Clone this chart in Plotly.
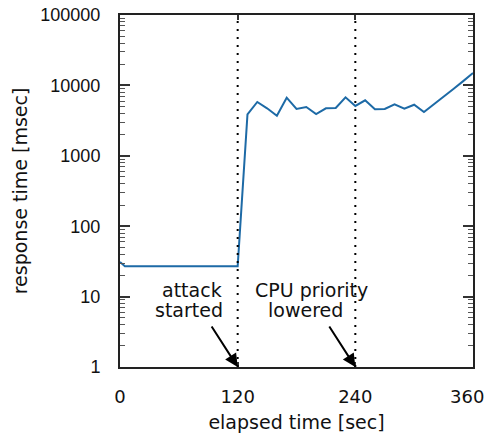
import math
import plotly.graph_objects as go

# elapsed time [sec]
time_sec = [0, 5, 10, 20, 30, 40, 50, 60, 70, 80, 90, 100, 110, 120,
            130, 140, 150, 160, 170, 180, 190, 200, 210, 220, 230, 240,
            250, 260, 270, 280, 290, 300, 310, 320, 330, 340, 350, 360]
# response time [msec]
response_ms = [31, 27, 27, 27.3, 27, 27, 27, 27, 27, 27, 27.5, 27, 27, 27,
               3880, 5810, 4730, 3710, 6690, 4620, 4930, 3925, 4730, 4775, 6780, 5100,
               6140, 4575, 4620, 5390, 4670, 5320, 4190, 5350, 6840, 8890, 11500, 15000]

# event markers (vertical dotted lines + arrows)
event_times = [120, 240]
# annotation text lines, their x centres [sec] and y positions [msec]
label_lines = ["attack", "started", "CPU priority", "lowered"]
label_x = [73, 70.5, 195.5, 188.7]
label_y = [12.4, 6.45, 12.4, 6.45]

x_ticks = [0, 120, 240, 360]
x_tick_text = ["0", "120", "240", "360&nbsp;&nbsp;"]
y_ticks = [1, 10, 100, 1000, 10000, 100000]
y_tick_text = ["1", "10", "100", "1000", "10000", "100000"]
y_minor = [m * 10 ** e for e in range(5) for m in range(2, 10)]

LINE_COLOR = "#1d6aa6"
TXT = "DejaVu Sans"

fig = go.Figure()
fig.add_trace(go.Scatter(x=time_sec, y=response_ms, mode="lines",
                         line=dict(color=LINE_COLOR, width=2), showlegend=False,
                         hoverinfo="skip"))

for t in event_times:
    fig.add_shape(type="line", x0=t, x1=t, y0=0, y1=1, xref="x", yref="paper",
                  line=dict(color="black", width=2, dash="2px,6px"))
    fig.add_annotation(x=t, y=0, xref="x", yref="y", text="", showarrow=True,
                       ax=-27, ay=-42, arrowhead=2, arrowsize=1.3, arrowwidth=2,
                       arrowcolor="black", standoff=0)

for txt, lx, ly in zip(label_lines, label_x, label_y):
    fig.add_annotation(x=lx, y=math.log10(ly), xref="x", yref="y", text=txt,
                       showarrow=False, align="center",
                       font=dict(family=TXT, size=19, color="#111"))

fig.update_xaxes(range=[0, 360], tickvals=x_ticks, ticktext=x_tick_text,
                 ticks="inside", ticklen=5, tickwidth=1.5, tickcolor="#333",
                 showline=True, linewidth=2, linecolor="#222", mirror="ticks",
                 showgrid=False, zeroline=False, ticklabelstandoff=12, automargin=False,
                 ticklabeloverflow="allow",
                 tickfont=dict(family=TXT, size=18, color="#111"),
                 title=dict(text="elapsed time [sec]", standoff=12,
                            font=dict(family=TXT, size=19, color="#111")))
fig.update_yaxes(type="log", range=[0, 5], tickvals=y_ticks, ticktext=y_tick_text,
                 ticks="inside", ticklen=10, tickwidth=1.5, tickcolor="#333",
                 minor=dict(ticks="inside", ticklen=5, tickwidth=1, tickcolor="#555",
                            tickvals=y_minor, showgrid=False),
                 showline=True, linewidth=2, linecolor="#222", mirror="ticks",
                 showgrid=False, zeroline=False, ticklabelstandoff=14, automargin=False,
                 ticklabeloverflow="allow",
                 tickfont=dict(family="Liberation Sans", size=18, color="#111"),
                 title=dict(text="response time [msec]", standoff=8,
                            font=dict(family=TXT, size=19, color="#111")))

fig.update_layout(width=490, height=433, margin=dict(l=120, r=17, t=15, b=66),
                  plot_bgcolor="white", paper_bgcolor="white")

fig.write_html("out.html", config={"displayModeBar": False},
               post_script="document.body.style.margin='0';document.body.style.overflow='hidden';")
